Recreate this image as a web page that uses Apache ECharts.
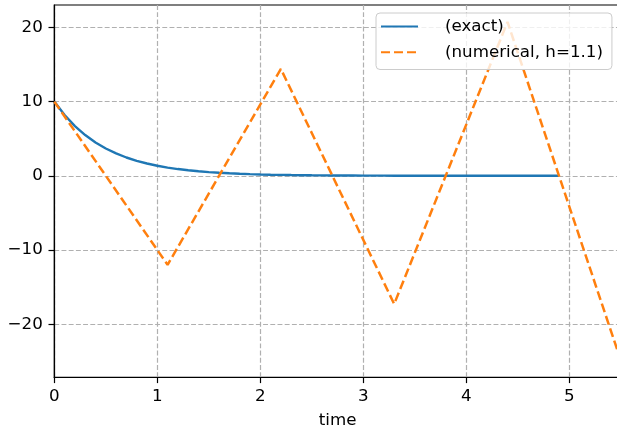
<!DOCTYPE html>
<html>
<head>
<meta charset="utf-8">
<script src="https://cdn.jsdelivr.net/npm/echarts@6/dist/echarts.min.js"></script>
<style>
html,body{margin:0;padding:0;background:#fff;}
#chart{width:617px;height:430px;}
</style>
</head>
<body>
<div id="chart"></div>
<script>
// Exact solution samples (time, value)
var exactT = [0,0.1,0.2,0.3,0.4,0.5,0.6,0.7,0.8,0.9,1.0,1.1,1.2,1.3,1.4,1.5,1.6,1.7,1.8,1.9,2.0,2.1,2.2,2.3,2.4,2.5,2.6,2.7,2.8,2.9,3.0,3.1,3.2,3.3,3.4,3.5,3.6,3.7,3.8,3.9,4.0,4.1,4.2,4.3,4.4,4.5,4.6,4.7,4.8,4.9];
var exactY = [10,8.187,6.703,5.488,4.493,3.679,3.012,2.466,2.019,1.653,1.353,1.108,0.907,0.743,0.608,0.498,0.408,0.334,0.273,0.224,0.183,0.150,0.123,0.101,0.082,0.067,0.055,0.045,0.037,0.030,0.025,0.020,0.017,0.014,0.011,0.009,0.007,0.006,0.005,0.004,0.003,0.003,0.002,0.002,0.002,0.001,0.001,0.001,0.001,0.001];
// Numerical solution (h = 1.1)
var numT = [0,1.1,2.2,3.3,4.4,5.5];
var numY = [10,-12,14.4,-17.28,20.74,-24.88];
// Tick values
var xTicks = [0,1,2,3,4,5];
var yTicks = [-20,-10,0,10,20];
var seriesNames = ['(exact)','(numerical, h=1.1)'];

function pairs(a,b){var r=[];for(var i=0;i<a.length;i++)r.push([a[i],b[i]]);return r;}

var font = 'DejaVu Sans';
var fs = 16.7;
var chart = echarts.init(document.getElementById('chart'), null, {renderer:'canvas'});
chart.setOption({
  animation:false,
  backgroundColor:'#ffffff',
  textStyle:{fontFamily:font},
  grid:{left:54.3, width:566.5, top:5, height:372.3, outerBoundsMode:'none', containLabel:false,
        show:true, borderColor:'#000', borderWidth:1.2, backgroundColor:'transparent'},
  legend:{
    orient:'vertical', left:376, top:13, z:20,
    data:seriesNames,
    itemWidth:37, itemHeight:14, itemGap:8.7,
    padding:[5,9,8.8,4],
    backgroundColor:'rgba(255,255,255,0.8)',
    borderColor:'#cccccc', borderWidth:1, borderRadius:4,
    itemStyle:{opacity:0},
    textStyle:{fontFamily:font, fontSize:fs, lineHeight:17, color:'#000', padding:[0,0,0,22]}
  },
  xAxis:{
    type:'value', min:0, max:5.5,
    name:'time', nameLocation:'middle', nameGap:35,
    nameTextStyle:{fontFamily:font, fontSize:fs, color:'#000'},
    axisLine:{show:true, onZero:false, lineStyle:{color:'#000', width:1.2}},
    axisTick:{show:true, inside:false, length:5.8, customValues:xTicks, lineStyle:{color:'#000', width:1.2}},
    axisLabel:{customValues:xTicks, fontFamily:font, fontSize:fs, color:'#000', margin:10.5},
    splitLine:{show:true, lineStyle:{color:'#b0b0b0', width:1.2, type:[4.9,2.3]}}
  },
  yAxis:{
    type:'value', min:-27.16, max:23.02,
    axisLine:{show:true, onZero:false, lineStyle:{color:'#000', width:1.2}},
    axisTick:{show:true, inside:false, length:5.8, customValues:yTicks, lineStyle:{color:'#000', width:1.2}},
    axisLabel:{customValues:yTicks, fontFamily:font, fontSize:fs, color:'#000', margin:11.5,
      formatter:function(v){return v<0?'\u2212'+Math.abs(v):String(v);}},
    splitLine:{show:true, lineStyle:{color:'#b0b0b0', width:1.2, type:[4.9,2.3]}}
  },
  series:[
    {name:seriesNames[0], type:'line', data:pairs(exactT,exactY), showSymbol:false, symbol:'none',
     lineStyle:{color:'#1f77b4', width:2.4}, itemStyle:{color:'#1f77b4'}},
    {name:seriesNames[1], type:'line', data:pairs(numT,numY), showSymbol:false, symbol:'none',
     lineStyle:{color:'#ff7f0e', width:2.5, type:[9,4]}, itemStyle:{color:'#ff7f0e'}}
  ]
});
</script>
</body>
</html>
